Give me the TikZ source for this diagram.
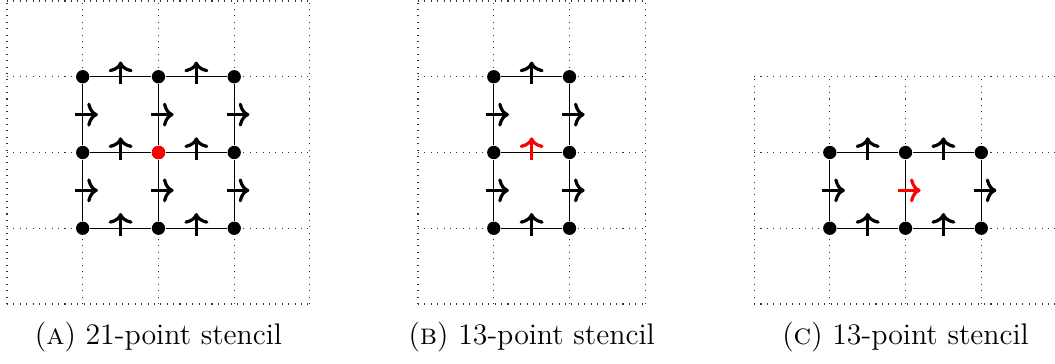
\documentclass[tikz,border=0pt]{standalone}
\usetikzlibrary{calc,arrows.meta}
\tikzset{
  gridline/.style={dotted, line width=0.4pt, black!80},
  edge/.style={line width=0.5pt},
  pt/.style={circle, fill=black, inner sep=0pt, minimum size=5pt},
  redpt/.style={pt, fill=red},
  flux/.style={-{Computer Modern Rightarrow[length=4pt,width=9pt]}, line width=1.2pt},
  redflux/.style={flux, red},
  captext/.style={anchor=base, font=\fontsize{11.2}{13.5}\selectfont}
}
\begin{document}
\begin{tikzpicture}
\useasboundingbox (0,0) rectangle (13.927,4.792);
% ---------- Panel A ----------
\begin{scope}[shift={(0.092,0.779)}]
  \draw[gridline] (0,0) grid (4,4);
  \foreach \i in {1,2,3} \foreach \j in {1,2,3} {
    \node[pt] (a\i\j) at (\i,\j) {};
  }
  \node[redpt] at (a22) {};
  \foreach \j in {1,2,3} {
    \draw[edge] (a1\j) -- (a2\j);
    \draw[edge] (a2\j) -- (a3\j);
    \draw[edge] (a\j1) -- (a\j2);
    \draw[edge] (a\j2) -- (a\j3);
    \draw[flux] ($(a1\j)!0.5!(a2\j)+(0,-0.1)$) -- ++(0,0.3);
    \draw[flux] ($(a2\j)!0.5!(a3\j)+(0,-0.1)$) -- ++(0,0.3);
    \draw[flux] ($(a\j1)!0.5!(a\j2)+(-0.1,0)$) -- ++(0.3,0);
    \draw[flux] ($(a\j2)!0.5!(a\j3)+(-0.1,0)$) -- ++(0.3,0);
  }
\end{scope}
% ---------- Panel B ----------
\begin{scope}[shift={(5.518,0.779)}]
  \draw[gridline] (0,0) grid (3,4);
  \foreach \i in {1,2} \foreach \j in {1,2,3} {
    \node[pt] (b\i\j) at (\i,\j) {};
  }
  \foreach \j in {1,2,3} {
    \draw[edge] (b1\j) -- (b2\j);
  }
  \foreach \i in {1,2} {
    \draw[edge] (b\i1) -- (b\i2);
    \draw[edge] (b\i2) -- (b\i3);
    \draw[flux] ($(b\i1)!0.5!(b\i2)+(-0.1,0)$) -- ++(0.3,0);
    \draw[flux] ($(b\i2)!0.5!(b\i3)+(-0.1,0)$) -- ++(0.3,0);
  }
  \draw[flux] ($(b11)!0.5!(b21)+(0,-0.1)$) -- ++(0,0.3);
  \draw[redflux] ($(b12)!0.5!(b22)+(0,-0.1)$) -- ++(0,0.3);
  \draw[flux] ($(b13)!0.5!(b23)+(0,-0.1)$) -- ++(0,0.3);
\end{scope}
% ---------- Panel C ----------
\begin{scope}[shift={(9.954,0.779)}]
  \draw[gridline] (0,0) grid (4,3);
  \foreach \i in {1,2,3} \foreach \j in {1,2} {
    \node[pt] (c\i\j) at (\i,\j) {};
  }
  \foreach \j in {1,2} {
    \draw[edge] (c1\j) -- (c2\j);
    \draw[edge] (c2\j) -- (c3\j);
    \draw[flux] ($(c1\j)!0.5!(c2\j)+(0,-0.1)$) -- ++(0,0.3);
    \draw[flux] ($(c2\j)!0.5!(c3\j)+(0,-0.1)$) -- ++(0,0.3);
  }
  \foreach \i in {1,2,3} {
    \draw[edge] (c\i1) -- (c\i2);
  }
  \draw[flux] ($(c11)!0.5!(c12)+(-0.1,0)$) -- ++(0.3,0);
  \draw[redflux] ($(c21)!0.5!(c22)+(-0.1,0)$) -- ++(0.3,0);
  \draw[flux] ($(c31)!0.5!(c32)+(-0.1,0)$) -- ++(0.3,0);
\end{scope}
% ---------- Captions ----------
\node[captext] (capa) at (2.092,0.238) {(\textsc{a}) 21-point stencil};
\node[captext] (capb) at (7.018,0.238) {(\textsc{b}) 13-point stencil};
\node[captext] (capc) at (11.954,0.238) {(\textsc{c}) 13-point stencil};
\end{tikzpicture}
\end{document}
